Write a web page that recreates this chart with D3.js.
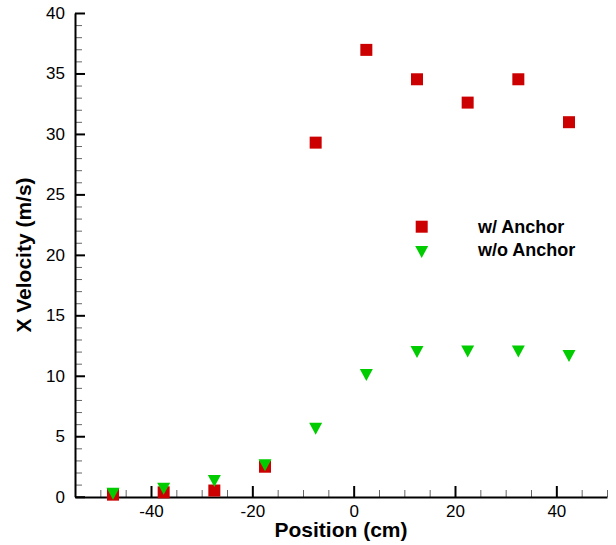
<!DOCTYPE html>
<html>
<head>
<meta charset="utf-8">
<script src="https://cdn.jsdelivr.net/npm/d3@7"></script>
<style>
  body { margin: 0; background: #fff; }
  svg { display: block; font-family: "Liberation Sans", Arial, sans-serif; }
</style>
</head>
<body>
<svg id="chart" width="616" height="545"></svg>
<script>
// measurement positions (cm)
const positions = [-47.5, -37.5, -27.5, -17.5, -7.5, 2.5, 12.5, 22.5, 32.5, 42.5];
// X velocity (m/s)
const withAnchor = [0.17, 0.36, 0.51, 2.48, 29.28, 36.95, 34.52, 32.59, 34.52, 30.97];
const withoutAnchor = [0.25, 0.66, 1.3, 2.6, 5.62, 10.07, 11.97, 12.0, 12.0, 11.64];
const seriesNames = ['w/ Anchor', 'w/o Anchor'];
const xMajorTicks = [-40, -20, 0, 20, 40];
const yMajorTicks = [0, 5, 10, 15, 20, 25, 30, 35, 40];

const drawChart = () => {
    const svg = d3.select('#chart');
    const margin = { top: 13, right: 9, bottom: 48, left: 75 };
    const width = 616, height = 545;
    const x0 = margin.left, x1 = width - margin.right;
    const y0 = height - margin.bottom, y1 = margin.top;

    const xScale = d3.scaleLinear().domain([-55, 50]).range([x0, x1]);
    const yScale = d3.scaleLinear().domain([0, 40]).range([y0 - 0.3, y1]);

    const red = '#cc0000';
    const green = '#00cc00';

    // minor ticks
    const xMinor = d3.axisBottom(xScale)
        .tickValues(d3.range(-55, 51, 5).filter(v => v % 20 !== 0))
        .tickSizeInner(-7).tickSizeOuter(0).tickFormat('');
    svg.append('g')
        .attr('transform', `translate(0, ${y0})`)
        .call(xMinor)
        .call(g => g.select('.domain').remove())
        .call(g => g.selectAll('line').attr('stroke', '#666').attr('stroke-width', 1));

    const yMinor = d3.axisLeft(yScale)
        .tickValues(d3.range(0, 41, 1).filter(v => v % 5 !== 0))
        .tickSizeInner(-7).tickSizeOuter(0).tickFormat('');
    svg.append('g')
        .attr('transform', `translate(${x0}, 0)`)
        .call(yMinor)
        .call(g => g.select('.domain').remove())
        .call(g => g.selectAll('line').attr('stroke', '#666').attr('stroke-width', 1));

    // major axes (plain hyphen minus like the original)
    const xAxis = d3.axisBottom(xScale)
        .tickValues(xMajorTicks)
        .tickSizeInner(-11).tickSizeOuter(0).tickPadding(8)
        .tickFormat(d => String(d));
    svg.append('g')
        .attr('transform', `translate(0, ${y0})`)
        .call(xAxis)
        .call(g => g.select('.domain').attr('stroke-width', 2))
        .call(g => g.selectAll('line').attr('stroke-width', 2))
        .call(g => g.selectAll('text').attr('font-size', 17).attr('font-family', null).attr('fill', '#000'));

    const yAxis = d3.axisLeft(yScale)
        .tickValues(yMajorTicks)
        .tickSizeInner(-10).tickSizeOuter(0).tickPadding(10)
        .tickFormat(d => String(d));
    svg.append('g')
        .attr('transform', `translate(${x0}, 0)`)
        .call(yAxis)
        .call(g => g.select('.domain').attr('stroke-width', 2))
        .call(g => g.selectAll('line').attr('stroke-width', 2))
        .call(g => g.selectAll('text').attr('font-size', 17).attr('font-family', null).attr('fill', '#000'));

    // axis labels
    svg.append('text')
        .attr('text-anchor', 'middle')
        .attr('x', (x0 + x1) / 2)
        .attr('y', 537)
        .attr('font-size', 21)
        .attr('font-weight', 'bold')
        .text('Position (cm)');

    svg.append('text')
        .attr('text-anchor', 'middle')
        .attr('transform', 'rotate(-90)')
        .attr('x', -(y0 + y1) / 2)
        .attr('y', 31)
        .attr('font-size', 21)
        .attr('font-weight', 'bold')
        .text('X Velocity (m/s)');

    const square = 'M-6,-6H6V6H-6Z';
    const triangle = 'M-6.5,-6L6.5,-6L0,6Z';

    // w/ Anchor
    svg.append('g')
        .selectAll('path')
        .data(positions.map((p, i) => ({ x: p, y: withAnchor[i] })))
        .join('path')
        .attr('d', square)
        .attr('fill', red)
        .attr('transform', d => `translate(${xScale(d.x)}, ${yScale(d.y)})`);

    // w/o Anchor
    svg.append('g')
        .selectAll('path')
        .data(positions.map((p, i) => ({ x: p, y: withoutAnchor[i] })))
        .join('path')
        .attr('d', triangle)
        .attr('fill', green)
        .attr('transform', d => `translate(${xScale(d.x)}, ${yScale(d.y)})`);

    // legend
    const legend = svg.append('g');
    legend.append('path').attr('d', square).attr('fill', red)
        .attr('transform', 'translate(421.7, 226.7)');
    legend.append('text').attr('x', 478).attr('y', 232.5)
        .attr('font-size', 18).attr('font-weight', 'bold').text(seriesNames[0]);
    legend.append('path').attr('d', triangle).attr('fill', green)
        .attr('transform', 'translate(421.7, 252)');
    legend.append('text').attr('x', 478).attr('y', 255.5)
        .attr('font-size', 18).attr('font-weight', 'bold').text(seriesNames[1]);
};

drawChart();
</script>
</body>
</html>
